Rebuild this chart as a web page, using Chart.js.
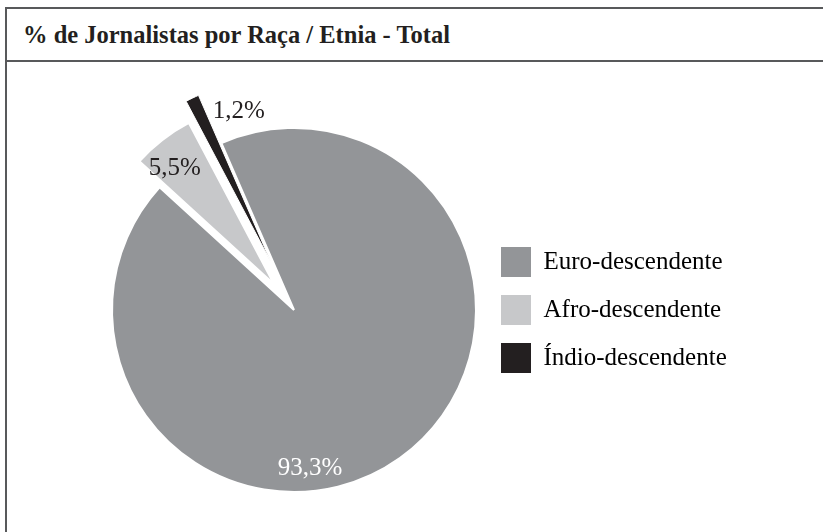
<!DOCTYPE html>
<html>
<head>
<meta charset="utf-8">
<script src="https://cdn.jsdelivr.net/npm/chart.js@4/dist/chart.umd.min.js"></script>
<style>
  html, body { margin: 0; padding: 0; width: 823px; height: 532px; overflow: hidden; background: #fff; }
  #frame {
    position: absolute; left: 5px; top: 7px; width: 900px; height: 600px;
    border: 2px solid #58595b; box-sizing: border-box;
  }
  #title {
    height: 53px; border-bottom: 2px solid #58595b; box-sizing: border-box;
    display: flex; align-items: center; padding-left: 16px;
    font-family: "Liberation Serif", serif; font-weight: bold; font-size: 24.5px; color: #231f20;
  }
  #chart { position: absolute; left: 0; top: 64px; }
</style>
</head>
<body>
<div id="frame"><div id="title">% de Jornalistas por Raça / Etnia - Total</div></div>
<canvas id="chart" width="823" height="492"></canvas>
<script>
// data
const categories = ['Euro-descendente', 'Afro-descendente', 'Índio-descendente'];
const shares = [93.3, 5.5, 1.2];

// style
const sliceColors = ['#939598', '#c7c8ca', '#231f20'];
const sliceBorders = [2, 2, 1];
const sliceExplode = [0, 33, 53];          // px pulled out along the slice middle
const labelColors = ['#ffffff', '#231f20', '#231f20'];
const labelShift = [29.75, -2.3, 10.15];   // degrees from slice middle
const labelRadius = [0.873, 1.018, 1.135]; // fraction of outer radius
const serif = '"Liberation Serif", serif';
const legendFont = 25;

// leave room so the legend boxes start at x=501 and the pie centre sits at x=294
const m = document.createElement('canvas').getContext('2d');
m.font = legendFont + 'px ' + serif;
const textW = Math.max(...categories.map(c => m.measureText(c).width));
const legendPad = 18;
const legendW = legendPad + 30 + legendFont / 2 + textW + 10;
const legendLeft = 501 - legendPad;
const padLeft = 294 * 2 - legendLeft;
const padRight = 823 - legendLeft - legendW;

// move slices out without shrinking them
const explodeSlices = {
  id: 'explodeSlices',
  beforeDatasetDraw(chart, args) {
    const ctx = chart.ctx;
    args.meta.data.forEach((arc, i) => {
      const mid = (arc.startAngle + arc.endAngle) / 2;
      ctx.save();
      ctx.translate(Math.cos(mid) * sliceExplode[i], Math.sin(mid) * sliceExplode[i]);
      arc.draw(ctx);
      ctx.restore();
    });
    return false;
  }
};

const sliceLabels = {
  id: 'sliceLabels',
  afterDatasetsDraw(chart) {
    const ctx = chart.ctx;
    chart.getDatasetMeta(0).data.forEach((arc, i) => {
      const { x, y, startAngle, endAngle, outerRadius } = arc;
      const a = (startAngle + endAngle) / 2 + labelShift[i] * Math.PI / 180;
      const r = outerRadius * labelRadius[i];
      ctx.save();
      ctx.font = '25px ' + serif;
      ctx.fillStyle = labelColors[i];
      ctx.textAlign = 'center';
      ctx.textBaseline = 'middle';
      ctx.fillText(shares[i].toFixed(1).replace('.', ',') + '%', x + Math.cos(a) * r, y + Math.sin(a) * r);
      ctx.restore();
    });
  }
};

new Chart(document.getElementById('chart'), {
  type: 'pie',
  data: {
    labels: categories,
    datasets: [{
      data: shares,
      backgroundColor: sliceColors,
      borderColor: '#ffffff',
      borderWidth: sliceBorders,
      hoverOffset: 0
    }]
  },
  options: {
    responsive: false,
    animation: false,
    events: [],
    rotation: -23.5,
    radius: 182,
    layout: { padding: { left: padLeft, right: padRight, top: 0, bottom: 0 } },
    plugins: {
      tooltip: { enabled: false },
      legend: {
        position: 'right',
        labels: {
          boxWidth: 30,
          boxHeight: 30,
          padding: legendPad,
          color: '#231f20',
          font: { family: serif, size: legendFont },
          generateLabels: () => categories.map((c, i) => ({
            text: c, fillStyle: sliceColors[i], strokeStyle: sliceColors[i],
            lineWidth: 0, hidden: false, index: i
          }))
        }
      }
    }
  },
  plugins: [explodeSlices, sliceLabels]
});
</script>
</body>
</html>
